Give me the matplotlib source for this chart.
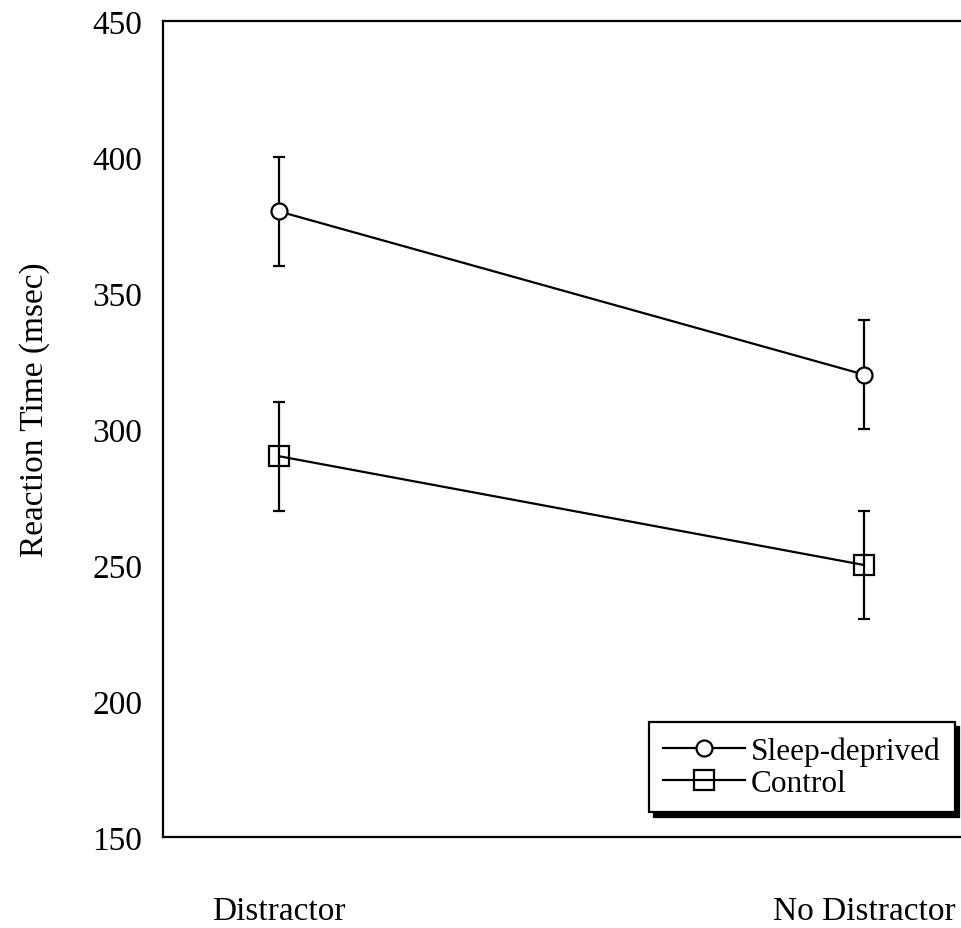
import matplotlib
matplotlib.use('Agg')
import matplotlib.pyplot as plt
from matplotlib.lines import Line2D

# data
conditions = ['Distractor', 'No Distractor']
sleep_deprived = [380, 320]
control = [290, 250]
sleep_err = [20, 20]
control_err = [20, 20]
yticks = [150, 200, 250, 300, 350, 400, 450]

plt.rcParams['font.family'] = ['Liberation Serif', 'DejaVu Serif']
plt.rcParams['font.size'] = 24

fig = plt.figure(figsize=(9.61, 9.29), dpi=100)
ax = fig.add_axes([163 / 961, 1 - 838 / 929, 798 / 961, 816 / 929])

x = [0, 1]
ax.errorbar(x, sleep_deprived, yerr=sleep_err, color='black', lw=1.6,
            marker='o', ms=11.5, mfc='white', mec='black', mew=1.6,
            capsize=4, capthick=1.6, elinewidth=1.6)
ax.errorbar(x, control, yerr=control_err, color='black', lw=1.6,
            marker='s', ms=14, mfc='none', mec='black', mew=1.6,
            capsize=4, capthick=1.6, elinewidth=1.6)

ax.set_xlim(-116 / 585, (961 - 279) / 585)
ax.set_ylim(150, 450)
ax.set_yticks(yticks)
ax.set_xticks(x)
ax.set_xticklabels(conditions)
ax.tick_params(axis='x', length=0, pad=42)
ax.tick_params(axis='y', length=0, pad=15)

ax.spines['right'].set_visible(False)
for s in ['left', 'top', 'bottom']:
    ax.spines[s].set_linewidth(1.6)

ax.set_ylabel('Reaction Time (msec)')
ax.yaxis.set_label_coords(-0.1416, 0.5245)

handles = [
    Line2D([], [], color='black', lw=1.6, marker='o', ms=11.5, mfc='white',
           mec='black', mew=1.6),
    Line2D([], [], color='black', lw=1.6, marker='s', ms=14, mfc='none',
           mec='black', mew=1.6),
]
leg = ax.legend(handles, ['Sleep-deprived', 'Control'],
                loc='lower right', bbox_to_anchor=(0.992, 0.031),
                borderaxespad=0, fancybox=False, edgecolor='black',
                framealpha=1, handlelength=2.6, handletextpad=0.2,
                labelspacing=0.1, borderpad=0.45, fontsize=22.5,
                shadow={'ox': 3.5, 'oy': -3.5, 'color': 'black', 'alpha': 1})
leg.get_frame().set_linewidth(1.6)

fig.savefig('out.png', dpi=100)
